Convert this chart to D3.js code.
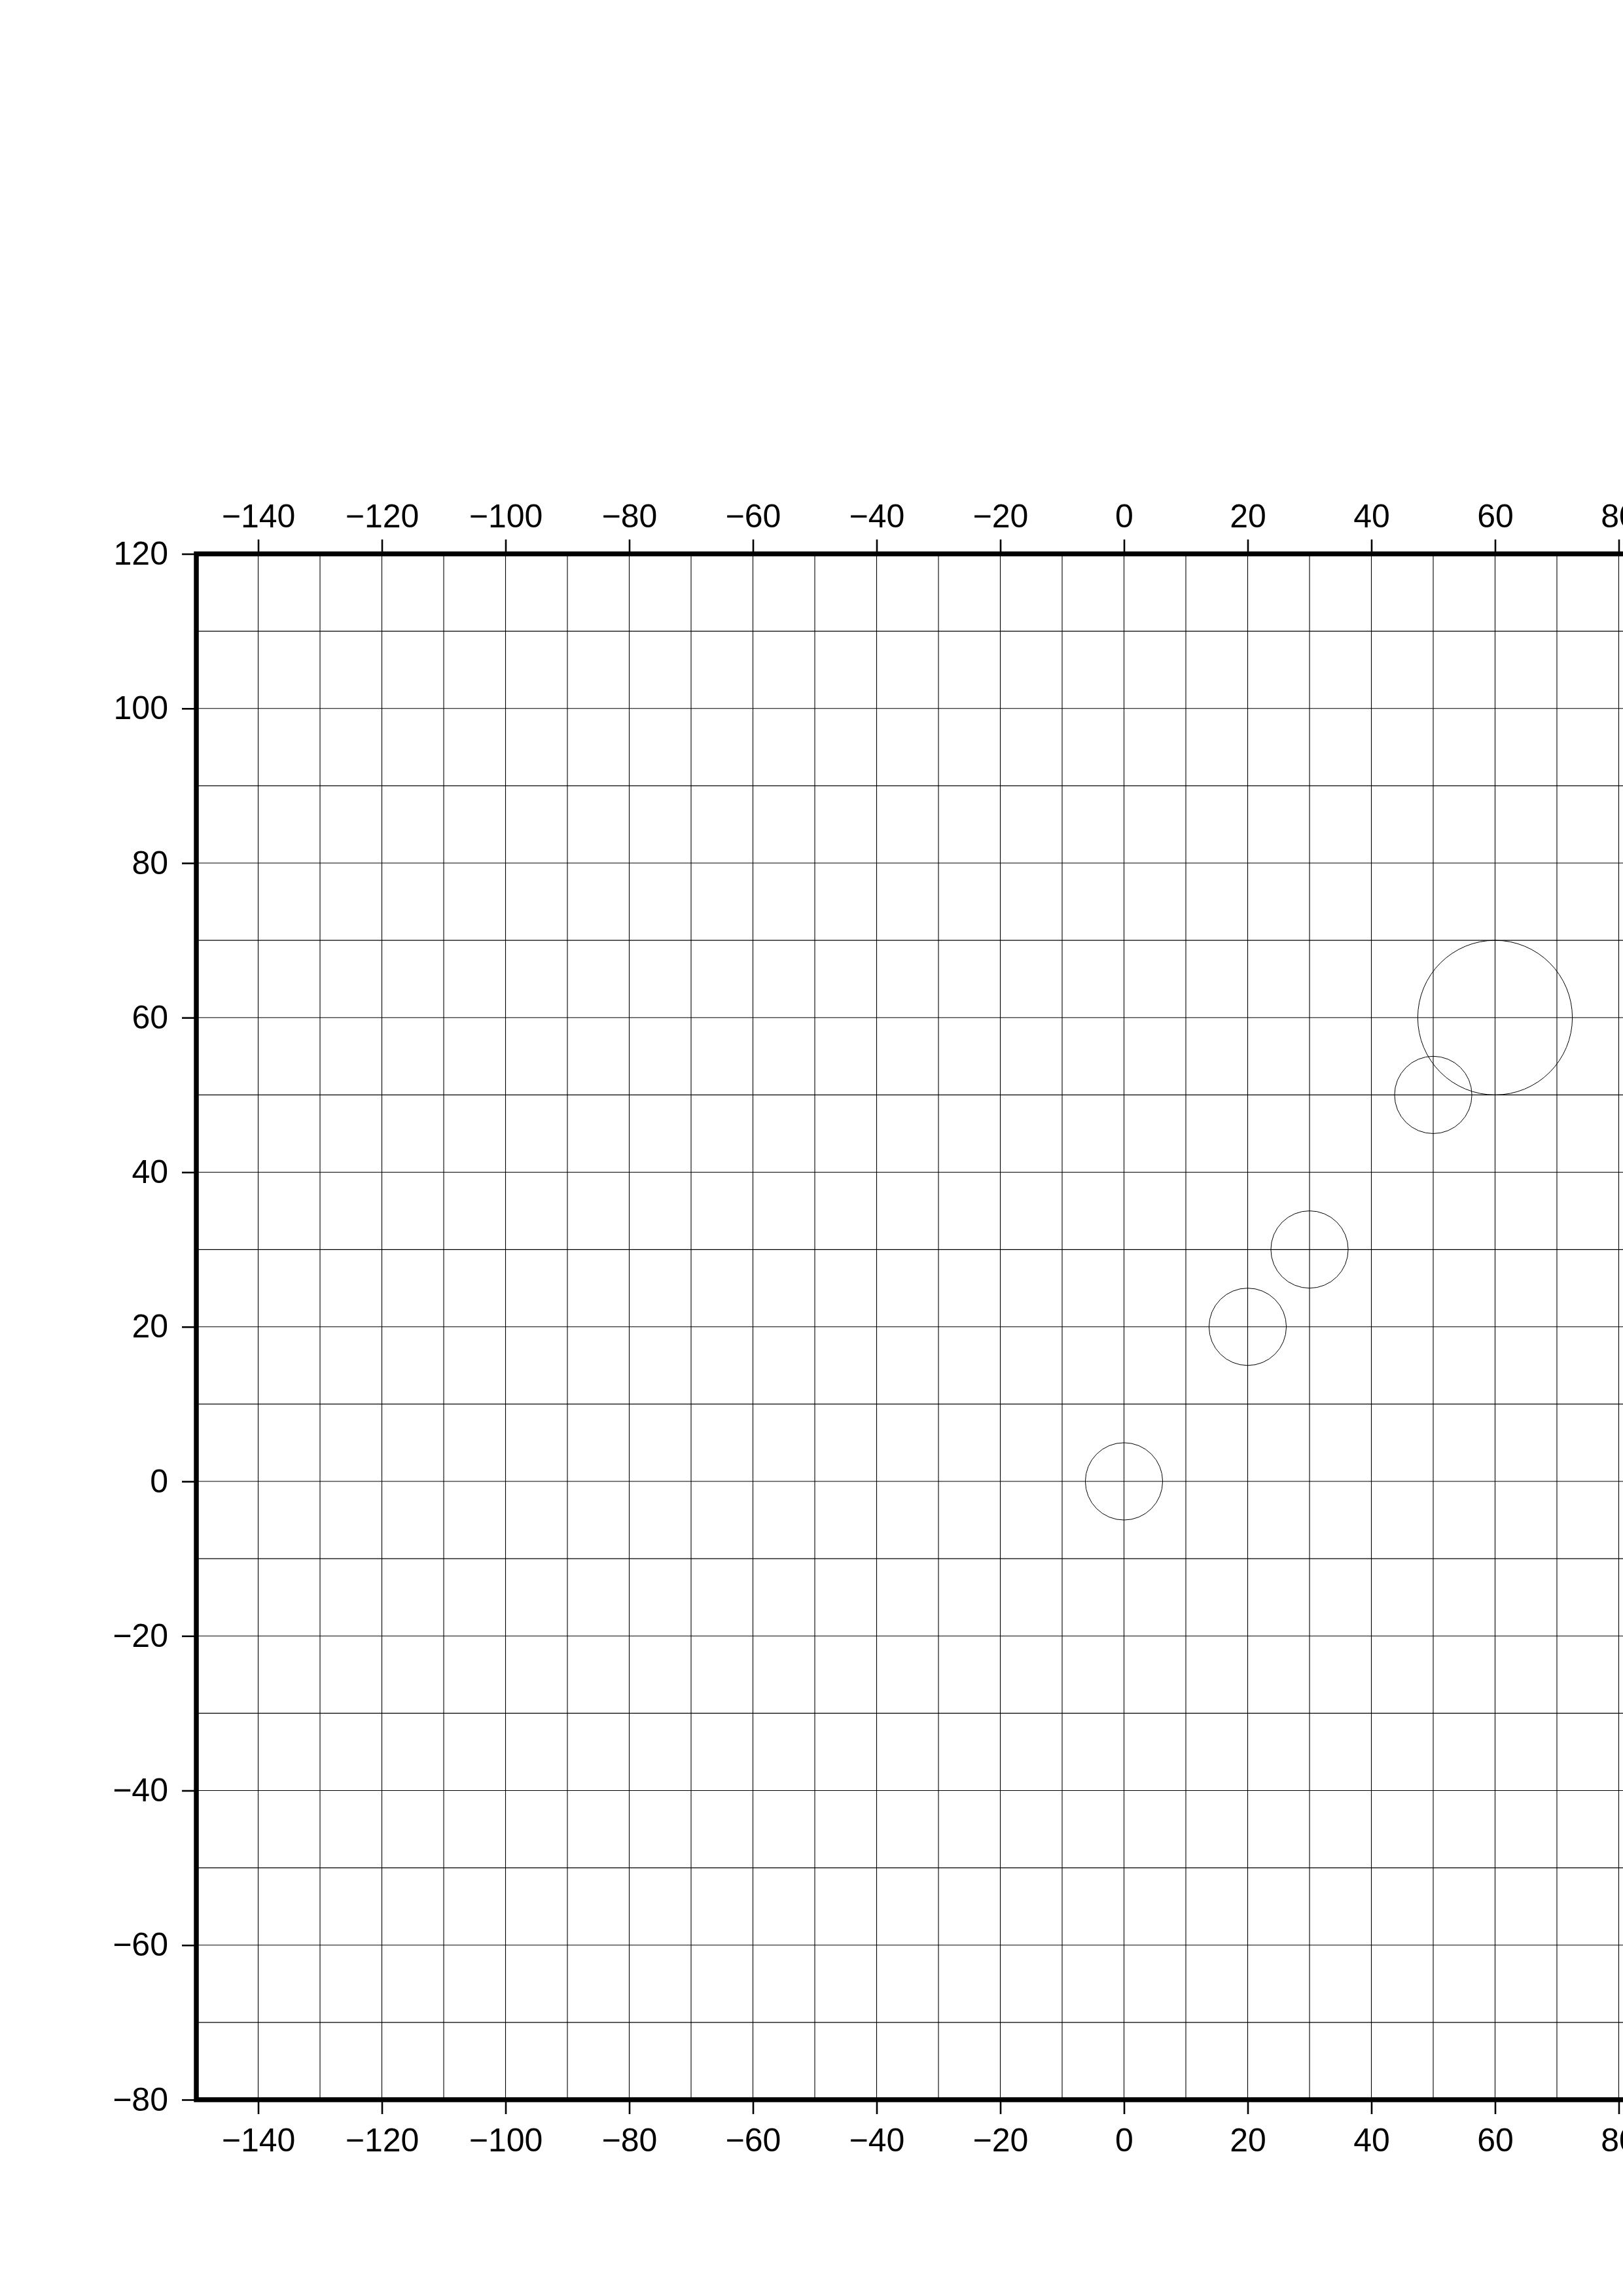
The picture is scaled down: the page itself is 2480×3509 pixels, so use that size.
<!DOCTYPE html>
<html>
<head>
<meta charset="utf-8">
<script src="https://cdn.jsdelivr.net/npm/d3@7"></script>
<style>
  html, body { margin: 0; padding: 0; background: #fff; }
  svg { display: block; }
  text { font-family: "Liberation Sans", Arial, Helvetica, sans-serif; }
</style>
</head>
<body>
<script>
// ---- data ----
const pointX = [0, 20, 30, 50, 60];
const pointY = [0, 20, 30, 50, 60];
const pointRadius = [5, 5, 5, 5, 10]; // radius in y-axis data units
const xTickValues = [-140, -120, -100, -80, -60, -40, -20, 0, 20, 40, 60, 80];
const yTickValues = [-80, -60, -40, -20, 0, 20, 40, 60, 80, 100, 120];
const xDomain = [-150, 150];
const yDomain = [-80, 120];
const gridStep = 10;

(function () {
// ---- layout ----
const W = 2480, H = 3509;
const plotLeft = 300, plotTop = 846.5, plotBottom = 3209;
const pxPerX = 9.45;
const plotRight = plotLeft + (xDomain[1] - xDomain[0]) * pxPerX;

const svg = d3.select("body").append("svg").attr("width", W).attr("height", H);
svg.append("rect").attr("width", W).attr("height", H).attr("fill", "#fff");

const x = d3.scaleLinear().domain(xDomain).range([plotLeft, plotRight]);
const y = d3.scaleLinear().domain(yDomain).range([plotBottom, plotTop]);

// grid
const gx = d3.range(xDomain[0] + gridStep, xDomain[1], gridStep);
const gy = d3.range(yDomain[0] + gridStep, yDomain[1], gridStep);
const grid = svg.append("g").attr("stroke", "#000").attr("stroke-width", 1.1);
grid.selectAll("line.v").data(gx).join("line").attr("class", "v")
  .attr("x1", d => x(d)).attr("x2", d => x(d))
  .attr("y1", plotTop).attr("y2", plotBottom);
grid.selectAll("line.h").data(gy).join("line").attr("class", "h")
  .attr("x1", plotLeft).attr("x2", plotRight)
  .attr("y1", d => y(d)).attr("y2", d => y(d));

// circles
const pts = pointX.map((v, i) => ({ x: v, y: pointY[i], r: pointRadius[i] }));
svg.append("g").selectAll("circle").data(pts).join("circle")
  .attr("cx", d => x(d.x)).attr("cy", d => y(d.y))
  .attr("r", d => y(0) - y(d.r))
  .attr("fill", "none").attr("stroke", "#000").attr("stroke-width", 1);

// axes
const fmt = d3.format("");
function styleAxis(g) {
  g.select(".domain").remove();
  g.selectAll(".tick line").attr("stroke", "#000").attr("stroke-width", 2.6);
  g.selectAll(".tick text").attr("fill", "#000").style("font-size", "50px")
    .style("font-family", '"Liberation Sans", Arial, Helvetica, sans-serif');
}
svg.append("g").attr("transform", `translate(0,${plotTop})`)
  .call(d3.axisTop(x).tickValues(xTickValues).tickFormat(fmt).tickSize(22).tickPadding(19))
  .call(styleAxis);
svg.append("g").attr("transform", `translate(0,${plotBottom})`)
  .call(d3.axisBottom(x).tickValues(xTickValues).tickFormat(fmt).tickSize(22).tickPadding(21))
  .call(styleAxis);
svg.append("g").attr("transform", `translate(${plotLeft},0)`)
  .call(d3.axisLeft(y).tickValues(yTickValues).tickFormat(fmt).tickSize(22).tickPadding(21))
  .call(styleAxis);

// frame
svg.append("rect")
  .attr("x", plotLeft).attr("y", plotTop)
  .attr("width", plotRight - plotLeft).attr("height", plotBottom - plotTop)
  .attr("fill", "none").attr("stroke", "#000").attr("stroke-width", 7.5);
})();
</script>
</body>
</html>
